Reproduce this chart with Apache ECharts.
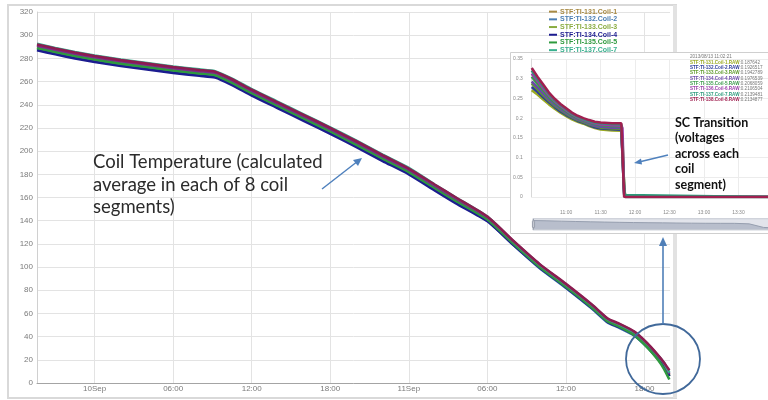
<!DOCTYPE html>
<html>
<head>
<meta charset="utf-8">
<script src="https://cdn.jsdelivr.net/npm/echarts@6/dist/echarts.min.js"></script>
<style>
  html, body { margin: 0; padding: 0; background: #fff; overflow: hidden; width: 768px; height: 400px; }
  #main { position: absolute; left: 0; top: 0; width: 768px; height: 400px; }
  #inset { position: absolute; left: 510px; top: 52px; width: 280px; height: 182px; background: #fff; }
</style>
</head>
<body>
<div id="main"></div>
<div id="inset"></div>
<script>
// ---- Coil temperatures (K), hours relative to 10 Sep 00:00 ----
const hours = [-4.4, -3, -1.5, 0, 2, 4, 6, 8, 9.2, 10.5, 12, 14, 16, 18, 20, 22, 24, 26, 27.6, 30, 32, 34, 36, 38, 39.2, 40, 41.2, 42.2, 43, 43.5, 43.9];
const coil1 = [290.5, 287, 283.5, 280.5, 277, 274, 271, 268.5, 267, 260.5, 251.5, 240.5, 229.5, 218.5, 207, 195, 183.5, 169.5, 158.5, 142.5, 121, 101, 84, 66, 54, 50, 43, 33, 23, 16, 7];
const coil2 = [288, 284.5, 281, 278, 274.5, 271.5, 268.5, 266, 264.5, 258, 249, 238, 227, 216, 204.5, 192.5, 181, 167, 156, 140, 119, 99, 82, 64, 52, 48, 41, 31, 21, 14, 6];
const coil3 = [289.5, 286, 282.5, 279.5, 276, 273, 270, 267.5, 266, 259.5, 250.5, 239.5, 228.5, 217.5, 206, 194, 182.5, 168.5, 157.5, 141.5, 120.5, 100.5, 83.5, 65.5, 53.5, 49.5, 42.5, 32.5, 22.5, 15, 6];
const coil4 = [287, 283.5, 280, 277, 273.5, 270.5, 267.5, 265, 263.5, 257, 248, 237, 226, 215, 203.5, 191.5, 180, 166, 155, 139.5, 119, 99.5, 82.5, 64.5, 52.5, 48.5, 41.5, 31.5, 21.5, 14.5, 6];
const coil5 = [289, 285.5, 282, 279, 275.5, 272.5, 269.5, 267, 265.5, 259, 250, 239, 228, 217, 205.5, 193.5, 182, 168, 157, 141, 120, 100, 83, 65, 53, 49, 41.5, 31, 20.5, 12, 3];
const coil6 = [291, 287.5, 284, 281, 277.5, 274.5, 271.5, 269, 267.5, 261, 252, 241, 230, 219, 207.5, 195.5, 184, 170, 159, 143, 122, 102, 85, 67, 55, 51, 44, 34, 24, 17, 8];
const coil7 = [292.5, 289, 285.5, 282.5, 279, 276, 273, 270.5, 269, 262.5, 253.5, 242.5, 231.5, 220.5, 209, 197, 185.5, 171, 160, 143.5, 122, 102, 85, 67, 55, 51, 44, 34, 24, 17, 9];
const coil8 = [292, 288.5, 285, 282, 278.5, 275.5, 272.5, 270, 268.5, 262, 253, 242, 231, 220, 208.5, 196.5, 185, 171, 160, 143.5, 122.5, 102.5, 85.5, 67.5, 55.5, 51.5, 44.5, 34.5, 24.5, 17.5, 11];
const coilTemps = [coil1, coil2, coil3, coil4, coil5, coil6, coil7, coil8];
const coilNames = ['STF:TI-131.Coil-1', 'STF:TI-132.Coil-2', 'STF:TI-133.Coil-3', 'STF:TI-134.Coil-4',
                   'STF:TI-135.Coil-5', 'STF:TI-136.Coil-6', 'STF:TI-137.Coil-7', 'STF:TI-138.Coil-8'];
const coilColors = ['#a88a44', '#4a7eb4', '#8aac40', '#1c1c90', '#2e9a3e', '#7a2a8c', '#38b08e', '#8c1c50'];
const legendOrder = [0, 1, 2, 3, 4, 6, 5, 7];
const tempTicks = [0, 6, 12, 18, 24, 30, 36, 42];
const dayLabels = ['10Sep', '11Sep'];

// ---- Coil segment voltages (V), minutes after 10:00 on 2013/08/13 ----
const minutes = [30, 35, 40, 45, 50, 55, 60, 65, 70, 75, 80, 85, 90, 100, 108, 109, 110.5, 111.5, 237];
const volt1 = [0.271, 0.260, 0.247, 0.235, 0.224, 0.214, 0.205, 0.197, 0.191, 0.186, 0.180, 0.175, 0.171, 0.169, 0.168, 0.150, 0.020, 0, 0];
const volt2 = [0.279, 0.267, 0.253, 0.240, 0.228, 0.217, 0.208, 0.200, 0.193, 0.188, 0.182, 0.177, 0.174, 0.172, 0.171, 0.170, 0.010, 0, 0];
const volt3 = [0.288, 0.273, 0.258, 0.244, 0.231, 0.221, 0.211, 0.202, 0.195, 0.190, 0.184, 0.180, 0.176, 0.174, 0.173, 0.120, 0.025, 0, 0];
const volt4 = [0.293, 0.278, 0.262, 0.247, 0.234, 0.223, 0.213, 0.204, 0.197, 0.192, 0.186, 0.181, 0.178, 0.176, 0.175, 0.170, 0.015, 0, 0];
const volt5 = [0.305, 0.287, 0.270, 0.253, 0.239, 0.227, 0.217, 0.207, 0.200, 0.194, 0.189, 0.185, 0.182, 0.180, 0.179, 0.140, 0.020, 0, 0];
const volt6 = [0.313, 0.294, 0.275, 0.258, 0.243, 0.231, 0.220, 0.210, 0.202, 0.196, 0.191, 0.187, 0.184, 0.182, 0.181, 0.175, 0.010, 0, 0];
const volt7 = [0.321, 0.300, 0.281, 0.262, 0.246, 0.234, 0.223, 0.212, 0.204, 0.198, 0.193, 0.189, 0.187, 0.185, 0.184, 0.180, 0.005, 0, 0];
const volt8 = [0.327, 0.305, 0.285, 0.265, 0.249, 0.236, 0.225, 0.214, 0.206, 0.200, 0.195, 0.191, 0.189, 0.187, 0.187, 0.185, 0, 0, 0];
const coilVolts = [volt1, volt2, volt3, volt4, volt5, volt6, volt7, volt8];
const rawNames = ['STF:TI-131.Coil-1.RAW', 'STF:TI-132.Coil-2.RAW', 'STF:TI-133.Coil-3.RAW', 'STF:TI-134.Coil-4.RAW',
                  'STF:TI-135.Coil-5.RAW', 'STF:TI-136.Coil-6.RAW', 'STF:TI-137.Coil-7.RAW', 'STF:TI-138.Coil-8.RAW'];
const rawColors = ['#9aaa22', '#2a3a9a', '#5e9a2a', '#6a4aa8', '#3a9a4a', '#9a3aa8', '#2a9a7a', '#a02050'];
const readoutTime = '2013/08/13 11:02:21';
const readoutValues = ['0.187642', '0.1926517', '0.1942789', '0.1976539', '0.2068059', '0.2106504', '0.2139481', '0.2134877'];
const voltTicks = [60, 90, 120, 150, 180, 210];

const axisFont = 'Liberation Sans, Arial, sans-serif';

function hourLabel(v) {
  const h = Math.round(v);
  if (h % 24 === 0) return dayLabels[h / 24];
  const hh = ((h % 24) + 24) % 24;
  return (hh < 10 ? '0' : '') + hh + ':00';
}
function minuteLabel(v) {
  const hh = 10 + Math.floor(v / 60);
  const mm = Math.round(v % 60);
  return hh + ':' + (mm < 10 ? '0' : '') + mm;
}

// ================= temperature chart =================
const mainChart = echarts.init(document.getElementById('main'));
mainChart.setOption({
  animation: false,
  grid: { left: 37, right: 98, top: 12, bottom: 17 },
  legend: {
    orient: 'vertical', left: 549, top: 8, padding: 0, itemGap: 0.4,
    itemWidth: 8, itemHeight: 2, icon: 'rect', selectedMode: false,
    textStyle: { fontSize: 7, fontWeight: 'bold', lineHeight: 7.3, fontFamily: axisFont, padding: [0, 0, 0, -2] },
    data: legendOrder.map(i => ({ name: coilNames[i], textStyle: { color: coilColors[i] } }))
  },
  xAxis: {
    type: 'value', min: -4.4, max: 43.95,
    axisLine: { lineStyle: { color: '#a4a4a4' } },
    axisTick: { show: false, customValues: tempTicks },
    axisLabel: { customValues: tempTicks, formatter: hourLabel, fontSize: 8, color: '#7a7a7a', margin: 2, fontFamily: axisFont },
    splitLine: { show: true, lineStyle: { color: '#e3e3e3' } }
  },
  yAxis: {
    type: 'value', min: 0, max: 320, interval: 20,
    axisLine: { show: true, onZero: false, lineStyle: { color: '#d0d0d0' } },
    axisTick: { show: false },
    axisLabel: { fontSize: 8, color: '#7a7a7a', margin: 4, fontFamily: axisFont },
    splitLine: { lineStyle: { color: '#e3e3e3' } }
  },
  series: coilTemps.map((vals, i) => ({
    name: coilNames[i], type: 'line', showSymbol: false,
    smooth: 0.2,
    color: coilColors[i],
    lineStyle: { width: 2.6, color: coilColors[i] },
    data: hours.map((h, k) => [h, vals[k]])
  })),
  graphic: [
    { type: 'rect', silent: true, z: -10, shape: { x: 8, y: 5, width: 668, height: 393 },
      style: { fill: 'none', stroke: '#d9d9d9', lineWidth: 2 } },
    { type: 'rect', silent: true, z: -10, shape: { x: 673, y: 5, width: 4, height: 393 },
      style: { fill: '#e2e2e2' } },
    { type: 'text', silent: true, z: 50, x: 93, y: 151,
      style: { text: 'Coil Temperature (calculated\naverage in each of 8 coil\nsegments)',
               font: '18.5px Lato, "Open Sans", sans-serif', lineHeight: 22.5, fill: '#2b2b2b' } },
    { type: 'line', silent: true, z: 50, shape: { x1: 322, y1: 189, x2: 358, y2: 161 },
      style: { stroke: '#4f81bd', lineWidth: 1.5 } },
    { type: 'polygon', silent: true, z: 50, shape: { points: [[362, 158], [353, 160], [358, 166]] },
      style: { fill: '#4f81bd' } },
    { type: 'ellipse', silent: true, z: 60, shape: { cx: 663, cy: 359, rx: 37, ry: 35 },
      style: { fill: 'none', stroke: '#41699a', lineWidth: 1.8 } },
    { type: 'line', silent: true, z: 60, shape: { x1: 663, y1: 324, x2: 663, y2: 244 },
      style: { stroke: '#4f7fb8', lineWidth: 1.6 } },
    { type: 'polygon', silent: true, z: 60, shape: { points: [[663, 237], [659, 246], [667, 246]] },
      style: { fill: '#4f7fb8' } }
  ]
});

// ================= voltage detail chart =================
const insetChart = echarts.init(document.getElementById('inset'));
const readoutRows = rawNames.map((n, i) => ({
  type: 'text', silent: true, z: 40, x: 180, y: 8 + i * 5.3,
  style: {
    text: '{n|' + n + '}{v|:' + readoutValues[i] + '}',
    rich: {
      n: { fontSize: 4.6, fontWeight: 'bold', fill: rawColors[i], fontFamily: axisFont },
      v: { fontSize: 4.6, fill: '#777', fontFamily: axisFont }
    }
  }
}));
insetChart.setOption({
  animation: false,
  grid: { left: 20, right: 20, top: 7, bottom: 37 },
  xAxis: {
    type: 'value', min: 30, max: 237.5,
    axisLine: { show: false },
    axisTick: { show: false, customValues: voltTicks },
    axisLabel: { customValues: voltTicks, formatter: minuteLabel, fontSize: 5, color: '#888', margin: 13, fontFamily: axisFont },
    splitLine: { show: true, lineStyle: { color: '#ececec' } }
  },
  yAxis: {
    type: 'value', min: 0, max: 0.35, interval: 0.05,
    axisLine: { show: true, onZero: false, lineStyle: { color: '#d8d8d8' } },
    axisTick: { show: false },
    axisLabel: { fontSize: 5, color: '#888', margin: 9, fontFamily: axisFont },
    splitLine: { lineStyle: { color: '#ececec' } }
  },
  dataZoom: [{
    type: 'slider', xAxisIndex: 0, start: 0, end: 100,
    left: 20, right: 0, top: 166, height: 12,
    showDetail: false, brushSelect: false,
    moveHandleSize: 0,
    borderColor: '#c8ccd4', backgroundColor: '#f4f5f8',
    fillerColor: 'rgba(170,178,196,0.25)',
    handleSize: '90%',
    handleStyle: { color: '#c5c9d2', borderColor: '#9aa0ad' },
    dataBackground: { lineStyle: { color: '#8f97a8', width: 1 }, areaStyle: { color: '#aeb5c4', opacity: 0.8 } },
    selectedDataBackground: { lineStyle: { color: '#8f97a8', width: 1 }, areaStyle: { color: '#aeb5c4', opacity: 0.8 } }
  }],
  series: coilVolts.map((vals, i) => ({
    name: rawNames[i], type: 'line', showSymbol: false,
    color: rawColors[i],
    lineStyle: { width: 2.6, color: rawColors[i] },
    data: minutes.map((m, k) => [m, vals[k]])
  })),
  graphic: [
    { type: 'rect', silent: true, z: 100, shape: { x: 0.5, y: 0.5, width: 300, height: 181 },
      style: { fill: 'none', stroke: '#cfcfcf', lineWidth: 1 } },
    { type: 'text', silent: true, z: 40, x: 180, y: 2.5,
      style: { text: readoutTime, fontSize: 4.6, fill: '#777', fontFamily: axisFont } },
    ...readoutRows,
    { type: 'text', silent: true, z: 50, x: 165, y: 63,
      style: { text: 'SC Transition\n(voltages\nacross each\ncoil\nsegment)',
               font: 'bold 12.5px Lato, "Open Sans", sans-serif', lineHeight: 15.5, fill: '#111' } },
    { type: 'line', silent: true, z: 50, shape: { x1: 158, y1: 103, x2: 129, y2: 110 },
      style: { stroke: '#4f81bd', lineWidth: 1.4 } },
    { type: 'polygon', silent: true, z: 50, shape: { points: [[124, 111], [131, 106.5], [132, 112.5]] },
      style: { fill: '#4f81bd' } }
  ]
});
</script>
</body>
</html>
